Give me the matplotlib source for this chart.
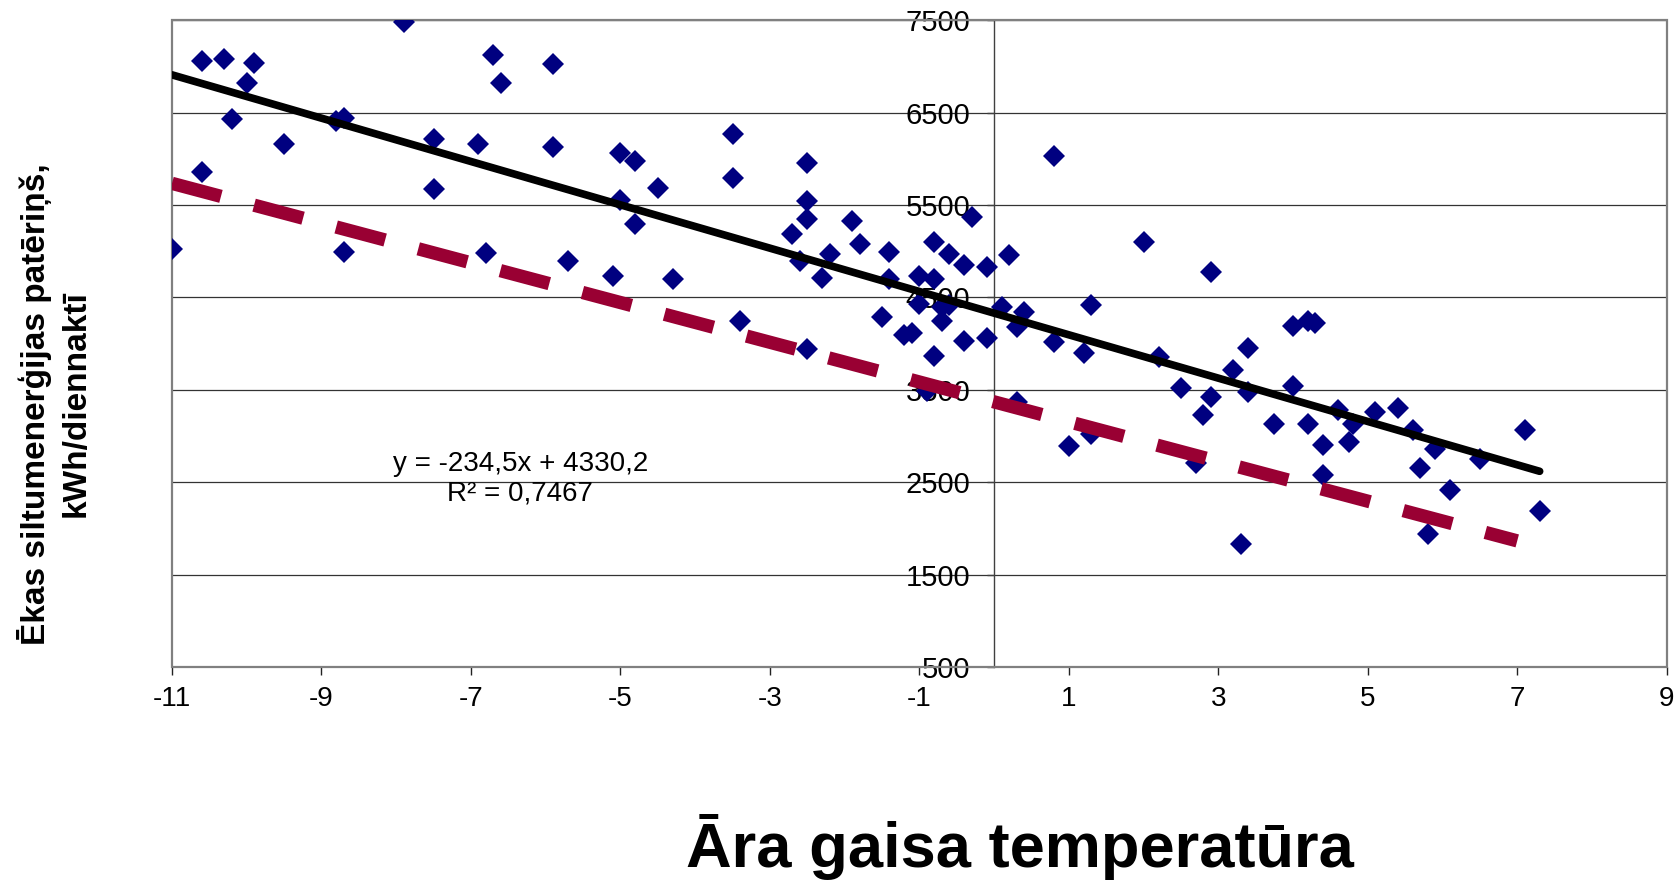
import numpy as np
import matplotlib.pyplot as plt
from matplotlib.patches import Rectangle

plt.rcParams['font.family'] = ['Liberation Sans', 'DejaVu Sans']

# daily readings: outdoor temperature (C) and heat use (kWh/day)
temp = [-10.6, -10.3, -9.9, -10.0, -10.2, -9.5, -10.6, -11.0, -7.9, -8.8,
        -8.7, -8.7, -7.5, -7.5, -6.9, -6.8, -6.7, -6.6, -5.9, -5.9,
        -5.7, -5.1, -5.0, -5.0, -4.8, -4.8, -4.5, -4.3,
        -3.5, -3.5, -3.4, -2.5, -2.5, -2.5, -2.5, -2.7, -2.6, -2.2,
        -2.3, -1.9, -1.8, -1.5, -1.4, -1.4, -1.2, -1.1, -1.0, -1.0,
        -0.8, -0.8, -0.7, -0.7, -0.8, -0.6, -0.6, -0.4, -0.4, -0.3,
        -0.1, -0.1, 0.1, 0.2, 0.3, 0.4, 0.8, 0.8, 1.2, 1.3,
        2.0, 2.9, 3.4, 2.2, 4.0, 4.2, 4.3, -0.9,
        0.3, 1.0, 1.3, 2.5, 2.9, 2.8, 2.7, 3.2, 3.4, 3.75, 4.0, 3.3,
        4.2, 4.4, 4.4, 4.6, 4.8, 4.75, 5.1, 5.4, 5.6, 5.9, 5.7, 6.1,
        5.8, 6.5, 7.1, 7.3]
heat = [7060, 7080, 7040, 6820, 6430, 6160, 5860, 5020, 7480, 6410,
        6440, 4990, 6210, 5670, 6160, 4980, 7120, 6820, 7030, 6130,
        4890, 4730, 6060, 5550, 5980, 5290, 5690, 4700,
        6270, 5790, 4245, 5960, 5540, 5350, 3940, 5190, 4890, 4970,
        4710, 5330, 5075, 4285, 4995, 4700, 4090, 4120, 4730, 4425,
        5100, 4700, 4400, 4250, 3865, 4965, 4420, 4850, 4030, 5375,
        4825, 4060, 4395, 4955, 4185, 4340, 6035, 4020, 3900, 4420,
        5105, 4780, 3950, 3860, 4195, 4245, 4225, 3490,
        3370, 2890, 3020, 3515, 3420, 3230, 2705, 3720, 3480, 3130, 3540, 1830,
        3130, 2900, 2580, 3280, 3130, 2940, 3255, 3300, 3065, 2855, 2655, 2415,
        1935, 2750, 3060, 2190]

# linear trend shown on the chart
trend_coef = [-234.5, 4330.2]
trend_x = np.array([-11, 7.3])

# dashed reference line, end points
ref_x = [-11, 7.0]
ref_y = [5735, 1865]

xticks = np.arange(-11, 10, 2)
yticks = np.arange(500, 7501, 1000)

fig = plt.figure(figsize=(16.79, 8.8), dpi=100, facecolor='white')
ax = fig.add_axes([172/1679, 1 - 667/880, (1666.7 - 172)/1679, (667 - 20.3)/880])

ax.set_xlim(-11, 9)
ax.set_ylim(500, 7500)
ax.set_xticks(xticks)
ax.set_yticks(yticks)
ax.set_xticklabels([str(v) for v in xticks])
ax.set_yticklabels([str(v) for v in yticks])

ax.yaxis.grid(True, color='#333333', linewidth=0.9)
ax.spines['left'].set_position(('data', 0))
ax.spines['left'].set_color('#404040')
ax.spines['left'].set_linewidth(1.0)
ax.spines['bottom'].set_color('#222222')
ax.spines['bottom'].set_linewidth(1.3)
ax.spines['top'].set_visible(False)
ax.spines['right'].set_visible(False)
ax.add_patch(Rectangle((0, 0), 1, 1, transform=ax.transAxes, fill=False,
                       edgecolor='#808080', linewidth=1.6, clip_on=False, zorder=2.6))

ax.tick_params(axis='x', direction='out', length=5.8, width=1, color='#222222',
               labelsize=20, pad=8)
ax.tick_params(axis='y', direction='out', length=5, width=1, color='#404040',
               labelsize=21, pad=12)

ax.plot(temp, heat, linestyle='none', marker='D', markersize=10.8,
        color='#000080', markeredgewidth=0, zorder=3)

ax.plot(trend_x, np.polyval(trend_coef, trend_x), color='black', linewidth=5.5,
        solid_capstyle='round', zorder=4)

ax.plot(ref_x, ref_y, color='#990033', linewidth=9.6, dashes=(3.8, 2.57),
        dash_capstyle='butt', zorder=5)

ax.text(-6.34, 2535, 'y = -234,5x + 4330,2\nR² = 0,7467', ha='center', va='center',
        fontsize=20, linespacing=1.15, zorder=6)

fig.text(54.5/1679, 1 - 404/880, 'Ēkas siltumenerģijas patēriņš,\nkWh/diennaktī',
         rotation=90, ha='center', va='center', multialignment='center',
         fontsize=24, fontweight='bold', linespacing=1.35)

fig.text(1020/1679, 1 - 867/880, 'Āra gaisa temperatūra', ha='center', va='baseline',
         fontsize=45.5, fontweight='bold')

fig.savefig('out.png', dpi=100, facecolor='white')
